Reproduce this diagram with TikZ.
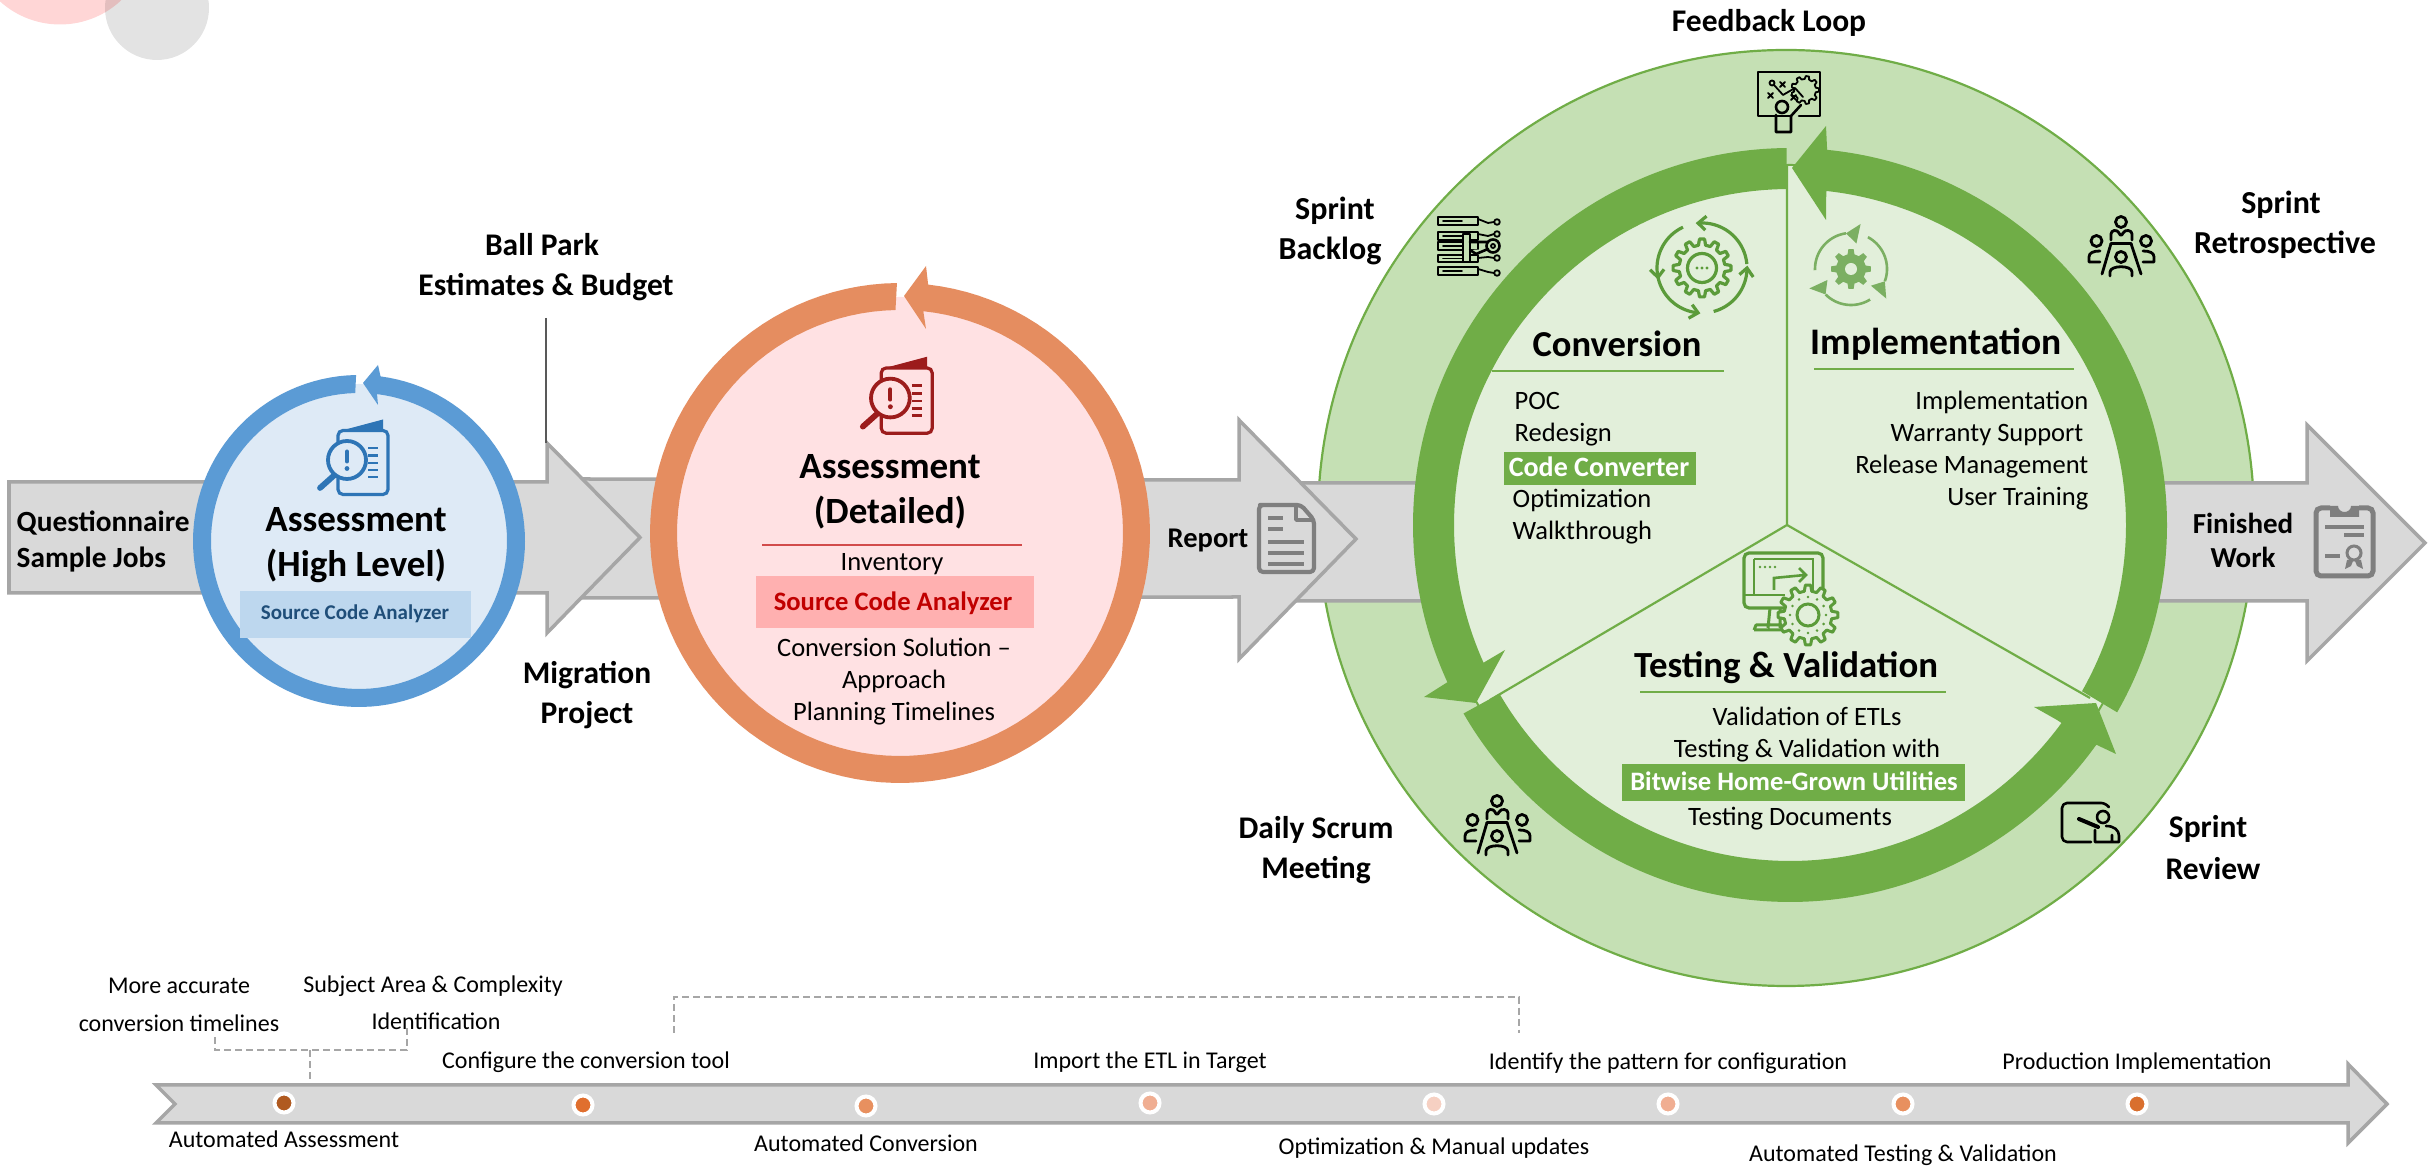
\documentclass[tikz,border=0pt]{standalone}
\usepackage{fontspec}
\setmainfont{Carlito}
\definecolor{gbody}{HTML}{D9D9D9}
\definecolor{gline}{HTML}{A6A6A6}
\definecolor{biggreen}{HTML}{C5E0B4}
\definecolor{dkgreen}{HTML}{70AD47}
\definecolor{pale}{HTML}{E2EFDA}
\definecolor{iconG}{HTML}{5B9B3A}
\definecolor{iconL}{HTML}{7BAF62}
\definecolor{ringB}{HTML}{5B9BD5}
\definecolor{fillB}{HTML}{DEEAF6}
\definecolor{boxB}{HTML}{BDD7EE}
\definecolor{txtB}{HTML}{1F4E79}
\definecolor{iconB}{HTML}{2E75B6}
\definecolor{ringO}{HTML}{E58D60}
\definecolor{fillO}{HTML}{FFE1E3}
\definecolor{boxO}{HTML}{FFB0B0}
\definecolor{txtR}{HTML}{C00000}
\definecolor{iconR}{HTML}{9C1C1C}
\definecolor{icoK}{HTML}{7F7F7F}
\definecolor{redrule}{HTML}{D24B4B}
\tikzset{
  x=0.01cm,y=-0.01cm,
  lab/.style={anchor=base,inner sep=0pt,text=black},
  arrowbody/.style={fill=gbody,draw=gline,line width=.035cm,line join=miter},
  dashline/.style={draw=gline,line width=.02cm,dash pattern=on .07cm off .04cm},
  uline/.style={draw=dkgreen,line width=.02cm},
  blackicon/.style={draw=black,line width=.026cm,line cap=round,line join=round},
  dotmark/.style={circle,draw=white,line width=.04cm,minimum size=.19cm,inner sep=0pt},
}
% [node opts]{name}{x}{y centre}{px size}{text}
\newcommand\txt[6][]{\node[lab,#1] (#2) at ({#3},{#4+0.32*#5}) {\fontsize{\fpeval{#5*0.28453}}{\fpeval{#5*0.34}}\selectfont #6};}
% colour, cx, cy, R, r, a0, a1 outer, a1 inner, head
\newcommand\ringshape[9]{\fill[#1] plot[domain=0:1,samples=120]({#2+#4*cos(#6+(#7-(#6))*\x)},{#3+#4*sin(#6+(#7-(#6))*\x)}) -- #9 -- plot[domain=0:1,samples=120]({#2+#5*cos(#8+(#6-(#8))*\x)},{#3+#5*sin(#8+(#6-(#8))*\x)}) -- cycle;}
% gear: style,cx,cy,Ro,Ri,n
\newcommand\gear[6]{\path[#1] ({#2+#5*cos(-108/#6)},{#3+#5*sin(-108/#6)}) \foreach \k in {1,...,#6}{ -- ({#2+#4*cos((\k-1)*360/#6-60/#6)},{#3+#4*sin((\k-1)*360/#6-60/#6)}) -- ({#2+#4*cos((\k-1)*360/#6+60/#6)},{#3+#4*sin((\k-1)*360/#6+60/#6)}) -- ({#2+#5*cos((\k-1)*360/#6+108/#6)},{#3+#5*sin((\k-1)*360/#6+108/#6)}) -- ({#2+#5*cos(\k*360/#6-108/#6)},{#3+#5*sin(\k*360/#6-108/#6)}) } -- cycle;}
% arcstyle, headstyle, cx, cy, r, a0, a1, delta, halfwidth
\newcommand\arcarrow[9]{\draw[#1] plot[domain=0:1,samples=30]({#3+#5*cos(#6+(#7-(#6))*\x)},{#4+#5*sin(#6+(#7-(#6))*\x)});
 \path[#2] ({#3+(#5+#9)*cos(#7-(#8))},{#4+(#5+#9)*sin(#7-(#8))}) -- ({#3+#5*cos(#7)},{#4+#5*sin(#7)}) -- ({#3+(#5-#9)*cos(#7-(#8))},{#4+(#5-#9)*sin(#7-(#8))});}
% assessment icon
\newcommand\assessicon[5]{\begin{scope}[shift={(#1,#2)},scale=#3]
 \draw[#4,line width=.032cm,rounded corners=.05cm] (-15,-27) rectangle (35,37);
 \fill[#4] (-15,-26) -- (30,-38) -- (30,-26) -- cycle;
 \foreach \yy in {-9.5,-2,5.5,12.5,19.5}{\draw[#4,line width=.028cm] (15,\yy) -- (25,\yy);}
 \filldraw[#4,fill=#5,line width=.038cm] (-6,2.5) circle (19);
 \draw[#4,line width=.04cm,line cap=round] (-6,-6) -- (-6,4);
 \fill[#4] (-6,11) circle (2.4);
 \draw[#4,line width=.058cm,line cap=round] (-19,18) -- (-33,30.5);
\end{scope}}
% meeting icon
\newcommand\meetingicon[2]{\begin{scope}[shift={(#1,#2)},blackicon,line width=.028cm]
 \draw (0,-25) circle (5.5);
 \draw (-10,-7) -- (-10,-13) .. controls (-10,-17) and (-4,-18) .. (-2,-14) .. controls (-1,-11) and (1,-11) .. (2,-14) .. controls (4,-18) and (11,-17) .. (11,-13) -- (11,-7);
 \draw (-10,-3.5) -- (10,-3.5);
 \draw (-10,-3.5) -- (-19,27) (10,-3.5) -- (20,27);
 \draw (-24.5,-6) circle (5.5) (25,-6) circle (5.5);
 \draw (-21,15) -- (-32,15) -- (-32,10) .. controls (-32,6) and (-28,4) .. (-21,4);
 \draw (22,15) -- (33,15) -- (33,10) .. controls (33,6) and (29,4) .. (22,4);
 \draw (0,10) circle (5.5);
 \draw (-11,29) -- (-11,25) .. controls (-11,18) and (11,18) .. (11,25) -- (11,29);
\end{scope}}
\begin{document}
\begin{tikzpicture}
\useasboundingbox (0,0) rectangle (2433,1168);
\fill[white] (0,0) rectangle (2433,1168);
\begin{scope}
 \clip (0,0) rectangle (2433,1168);
 \fill[red!100,opacity=.16] (60,-65) circle (89.5);
 \fill[black,opacity=.11] (157,8) circle (52);
\end{scope}

% big circle
\filldraw[fill=biggreen,draw=dkgreen,line width=.022cm] (1786,518) circle (468);
% finish arrow
\path[arrowbody] (1302,483) -- (2307,483) -- (2307,425) -- (2425,543) -- (2307,661) -- (2307,601) -- (1293,601) -- cycle;
% pie
\filldraw[fill=pale,draw=dkgreen,line width=.02cm] (1790,525) circle (360);
\coordinate (pieC) at (1787,525);
\coordinate (pieT) at (1787,165);
\coordinate (pieL) at (1490,700);
\coordinate (pieR) at (2090,698);
\draw[dkgreen,line width=.022cm] (pieC) -- (pieT) (pieC) -- (pieL) (pieC) -- (pieR);
% arcs
\ringshape{dkgreen}{1790}{525}{377}{336}{-90.5}{-204.8}{-204.2}{(1424,697) -- (1476,703) -- (1505,650) -- (1483,663)}
\ringshape{dkgreen}{1790}{525}{377}{336}{150}{35.5}{36.1}{(2116,754) -- (2096,703) -- (2034,707) -- (2057,720)}
\ringshape{dkgreen}{1790}{525}{377}{336}{29.8}{-84.5}{-83.8}{(1826,126) -- (1792,168) -- (1826,220)}

% report arrow
\path[arrowbody] (582,479) -- (1239,480) -- (1239,420) -- (1356,539) -- (1239,659) -- (1239,597) -- (582,598) -- cycle;
% first arrow
\path[arrowbody] (9,482) -- (547,482) -- (547,443) -- (640,537.5) -- (547,633) -- (547,593) -- (9,593) -- cycle;
\coordinate (ballEnd) at (546,318);
\coordinate (headTop) at (546,443);
\draw[black!65,line width=.016cm] (ballEnd) -- (headTop);

% orange circle
\fill[fillO] (900,533) circle (236);
\ringshape{ringO}{900}{533}{250}{223}{-90.7}{-444}{-444}{(926,266) -- (904,296) -- (926,329)}
\assessicon{896.5}{395.5}{1.02}{iconR}{fillO}
\txt{aTwoA}{890}{467}{37}{\bfseries Assessment}
\txt{aTwoB}{890}{512}{37}{\bfseries (Detailed)}
\draw[redrule,line width=.02cm] (762,545) -- (1022,545);
\txt{inv}{892}{562}{26.5}{Inventory}
\fill[boxO] (756,576) rectangle (1034,628);
\txt[text=txtR]{scaR}{893}{602}{26.6}{\bfseries Source Code Analyzer}
\txt{csol}{894}{648}{26.5}{Conversion Solution –}
\txt{appr}{894}{680}{26.5}{Approach}
\txt{plan}{894}{712}{26.5}{Planning Timelines}

% blue circle
\fill[fillB] (359,541) circle (157);
\ringshape{ringB}{359}{541}{166}{148}{-91}{-443}{-443}{(378,365) -- (363,383) -- (378,405)}
\assessicon{353}{457.5}{1}{iconB}{fillB}
\txt{aOneA}{356}{520}{37}{\bfseries Assessment}
\txt{aOneB}{356}{565}{37}{\bfseries (High Level)}
\fill[boxB] (240,591) rectangle (471,638);
\txt[text=txtB]{scaB}{355}{613}{21}{\bfseries Source Code Analyzer}

% arrow labels
\txt[anchor=base west]{qn}{16}{522}{29.3}{\bfseries Questionnaire}
\txt[anchor=base west]{sj}{16}{558}{29.3}{\bfseries Sample Jobs}
\txt{bp}{542}{245}{31.5}{\bfseries Ball Park}
\txt{eb}{546}{285}{31.5}{\bfseries Estimates \& Budget}
\txt{mg}{587}{673}{31.5}{\bfseries Migration}
\txt{pj}{587}{713}{31.5}{\bfseries Project}
\txt{rp}{1208}{538}{28.5}{\bfseries Report}
\txt{fw}{2243}{524}{29}{\bfseries Finished}
\txt{wk}{2243}{558}{29}{\bfseries Work}
\txt{fl}{1769}{21}{31.5}{\bfseries Feedback Loop}
\txt{sb}{1335}{209}{32}{\bfseries Sprint}
\txt{bl}{1330}{249}{32}{\bfseries Backlog}
\txt{sr}{2281}{203}{32}{\bfseries Sprint}
\txt{rt}{2285}{243}{32}{\bfseries Retrospective}
\txt{ds}{1316}{828}{31.5}{\bfseries Daily Scrum}
\txt{mt}{1316}{868}{31.5}{\bfseries Meeting}
\txt{sv}{2208}{827}{31.5}{\bfseries Sprint}
\txt{rv}{2213}{869}{31.5}{\bfseries Review}

% Conversion
\txt{cvH}{1617}{345}{36.5}{\bfseries Conversion}
\draw[uline] (1492,371) -- (1724,371);
\txt[anchor=base west]{poc}{1514}{401}{26.5}{POC}
\txt[anchor=base west]{red}{1514}{433}{26.5}{Redesign}
\fill[dkgreen] (1504,452) rectangle (1696,485);
\txt[text=white]{cc}{1599}{468}{28}{\bfseries Code Converter}
\txt[anchor=base west]{opt}{1512}{499}{26.5}{Optimization}
\txt[anchor=base west]{wal}{1512}{531}{26.5}{Walkthrough}
% Implementation
\txt{imH}{1936}{343}{37.5}{\bfseries Implementation}
\draw[uline] (1814,369) -- (2074,369);
\txt[anchor=base east]{i1}{2089}{401}{26.5}{Implementation}
\txt[anchor=base east]{i2}{2084}{433}{26.5}{Warranty Support}
\txt[anchor=base east]{i3}{2089}{465}{26.5}{Release Management}
\txt[anchor=base east]{i4}{2089}{497}{26.5}{User Training}
% Testing
\txt{tvH}{1786}{666}{36.8}{\bfseries Testing \& Validation}
\draw[uline] (1640,692) -- (1946,692);
\txt{t1}{1807}{717}{26.5}{Validation of ETLs}
\txt{t2}{1807}{749}{26.5}{Testing \& Validation with}
\fill[dkgreen] (1622,764) rectangle (1965,801);
\txt[text=white]{t3}{1794}{782}{26.6}{\bfseries Bitwise Home-Grown Utilities}
\txt{t4}{1790}{817}{26.5}{Testing Documents}

% conversion icon
\gear{draw=iconG,line width=.032cm,line join=round}{1702}{268}{29}{23}{12}
\draw[iconG,line width=.032cm] (1702,268) circle (14.5);
\foreach \dx in {-5,0,5}{\fill[iconG] (1702+\dx,268) circle (1.6);}
\arcarrow{iconG,line width=.032cm}{draw=iconG,line width=.032cm}{1702}{268}{45}{-5}{-95}{-10}{7}
\arcarrow{iconG,line width=.032cm}{draw=iconG,line width=.032cm}{1702}{268}{45}{-115}{-192}{-10}{7}
\arcarrow{iconG,line width=.032cm}{draw=iconG,line width=.032cm}{1702}{268}{45}{170}{95}{-10}{7}
\arcarrow{iconG,line width=.032cm}{draw=iconG,line width=.032cm}{1702}{268}{45}{75}{0}{-10}{7}
% implementation icon
\gear{fill=iconL}{1851}{269}{20}{15}{8}
\fill[pale] (1851,269) circle (6);
\arcarrow{iconL,line width=.026cm}{fill=iconL}{1851}{269}{36}{178}{262}{-20}{10}
\arcarrow{iconL,line width=.026cm}{fill=iconL}{1851}{269}{36}{-62}{20}{-20}{10}
\arcarrow{iconL,line width=.026cm}{fill=iconL}{1851}{269}{36}{58}{135}{-20}{10}
% testing icon
\draw[iconG,line width=.032cm,rounded corners=.05cm] (1744,553) rectangle (1823,608);
\draw[iconG,line width=.026cm] (1754,559) -- (1813,559) -- (1813,595) (1754,595) -- (1754,559) (1744,595) -- (1785,595);
\foreach \dx in {0,5,10,15}{\fill[iconG] (1760+\dx,567) circle (1.3);}
\draw[iconG,line width=.026cm] (1774,590) -- (1774,578) -- (1805,575) (1799,568) -- (1806,575) -- (1799,582);
\draw[iconG,line width=.03cm,line join=round] (1770,608) -- (1768,628) (1780,608) -- (1780,628) (1754,630) -- (1782,630) (1754,630) -- (1756,625) -- (1782,625);
\gear{fill=pale,draw=iconG,line width=.03cm,line join=round}{1808}{615}{30}{24}{12}
\draw[iconG,line width=.03cm] (1808,615) circle (11);
\foreach \a in {0,30,...,330}{\fill[iconG] ({1808+18*cos(\a)},{615+18*sin(\a)}) circle (1.4);}

% feedback icon
\draw[blackicon] (1790,116) -- (1758,116) -- (1758,72) -- (1820,72) -- (1820,116) -- (1799,116);
\begin{scope}
 \clip (1791,72) rectangle (1820,106);
 \gear{draw=black,line width=.018cm,line join=round}{1805}{90}{14}{11}{9}
\end{scope}
\draw[blackicon,line width=.018cm] (1772,83) circle (2.5) (1774,85) -- (1783,95) -- (1795,88) -- (1803,97);
\draw[blackicon,line width=.018cm] (1780,82) -- (1785,87) (1785,82) -- (1780,87) (1768,93) -- (1773,98) (1773,93) -- (1768,98) (1791,95) -- (1796,100) (1796,95) -- (1791,100);
\filldraw[blackicon,fill=biggreen] (1782,107) circle (6);
\draw[blackicon] (1776,115) -- (1776,132) -- (1791,132) -- (1791,116) -- (1801,105);

% backlog icon
\foreach \ya/\yb in {217/225,232/240,242/250,255/262,267/275}{
 \draw[blackicon] (1438,\ya) rectangle (1478,\yb);
 \draw[blackicon,line width=.016cm] (1443,{(\ya+\yb)/2}) -- (1462,{(\ya+\yb)/2});
}
\draw[blackicon,fill=biggreen] (1463,234) rectangle (1470,262);
\draw[blackicon,fill=biggreen] (1470,242) -- (1488,242) (1470,250) -- (1476,254) -- (1488,249);
\draw[blackicon] (1493,246) circle (6.5);
\draw[blackicon,line width=.018cm] (1493,246) circle (2);
\foreach \ya/\yb/\yc in {219/223/222,234/236/234,258/257/258,269/272/273}{
 \draw[blackicon,line width=.018cm] (1478,\ya) -- (1488,\yb) -- (1494,\yc);
 \draw[blackicon,line width=.018cm,fill=biggreen] (1497,\yc) circle (2.8);
}

\meetingicon{1497}{826}
\meetingicon{2121}{247}

% review icon
\draw[blackicon,rounded corners=.05cm] (2108,806) -- (2106,803) -- (2062,803) -- (2062,842) -- (2091,842);
\draw[blackicon] (2103,817) circle (6);
\draw[blackicon,line width=.04cm] (2079,819) -- (2098,827);
\draw[blackicon] (2095,842) -- (2095,830) (2106,826) .. controls (2114,826) and (2119,830) .. (2119,836) -- (2119,842) -- (2095,842) (2112,842) -- (2112,835);

% document icon
\draw[icoK,line width=.042cm,line join=round,rounded corners=.04cm] (1301,505) -- (1264,505) -- (1259,505) -- (1259,572) -- (1314,572) -- (1314,520) -- cycle;
\draw[icoK,line width=.036cm,line join=round] (1296,505) -- (1296,520) -- (1314,520);
\foreach \yy/\xb in {518/1283,529/1283,542/1304,553/1304,564/1304}{\draw[icoK,line width=.04cm] (1268,\yy) -- (\xb,\yy);}

% certificate icon
\draw[icoK,line width=.05cm,rounded corners=.05cm] (2330,508) -- (2316,508) -- (2316,576) -- (2373,576) -- (2373,508) -- (2359,508);
\fill[icoK] (2330,517) -- (2330,506) -- (2338,506) arc[start angle=180,end angle=360,x radius=6.5,y radius=-6] -- (2359,506) -- (2359,517) -- cycle;
\fill[gbody] (2344.5,505) circle (2.5);
\draw[icoK,line width=.04cm] (2325,527) -- (2364,527) (2344,535) -- (2364,535) (2325,556) -- (2340,556);
\draw[icoK,line width=.03cm] (2354,553) circle (7);
\fill[icoK] (2347,560) -- (2345,569) -- (2351,566) -- (2353,561) -- (2355,561) -- (2357,566) -- (2363,569) -- (2361,560) -- cycle;

% timeline
\path[arrowbody] (156,1085) -- (2348,1085) -- (2348,1064) -- (2387,1104) -- (2348,1143) -- (2348,1123) -- (156,1123) -- (175,1104) -- cycle;
\node[dotmark,fill={rgb,255:red,176;green,90;blue,32}] (d1) at (284,1103) {};
\node[dotmark,fill={rgb,255:red,224;green,111;blue,46}] (d2) at (583,1105) {};
\node[dotmark,fill={rgb,255:red,232;green,144;blue,95}] (d3) at (866,1106) {};
\node[dotmark,fill={rgb,255:red,240;green,174;blue,146}] (d4) at (1150,1103) {};
\node[dotmark,fill={rgb,255:red,246;green,208;blue,194}] (d5) at (1434,1104) {};
\node[dotmark,fill={rgb,255:red,240;green,174;blue,146}] (d6) at (1668,1104) {};
\node[dotmark,fill={rgb,255:red,232;green,144;blue,95}] (d7) at (1903,1104) {};
\node[dotmark,fill={rgb,255:red,217;green,111;blue,46}] (d8) at (2137,1104) {};

\txt{m1}{179}{986}{24}{More accurate}
\txt{m2}{179}{1024}{24}{conversion timelines}
\txt{s1}{433}{985}{24}{Subject Area \& Complexity}
\txt{s2}{436}{1022}{24}{Identification}
\txt{u1}{586}{1061}{24}{Configure the conversion tool}
\txt{u2}{1150}{1061}{24}{Import the ETL in Target}
\txt{u3}{1668}{1062}{24}{Identify the pattern for configuration}
\txt{u4}{2137}{1062}{24}{Production Implementation}
\txt{l1}{284}{1140}{24}{Automated Assessment}
\txt{l2}{866}{1144}{24}{Automated Conversion}
\txt{l3}{1434}{1147}{24}{Optimization \& Manual updates}
\txt{l4}{1903}{1154}{24}{Automated Testing \& Validation}

% dashed connectors
\coordinate (bLa) at (215,1037);
\coordinate (bLb) at (215,1050);
\coordinate (bRb) at (407,1050);
\coordinate (bRa) at (407,1025);
\coordinate (bMa) at (310,1050);
\coordinate (bMb) at (310,1085);
\coordinate (cLa) at (674,1033);
\coordinate (cLb) at (674,997);
\coordinate (cRb) at (1519,997);
\coordinate (cRa) at (1519,1033);
\draw[dashline] (bLa) -- (bLb) -- (bRb) -- (bRa);
\draw[dashline] (bMa) -- (bMb);
\draw[dashline] (cLa) -- (cLb) -- (cRb) -- (cRa);
\end{tikzpicture}
\end{document}
